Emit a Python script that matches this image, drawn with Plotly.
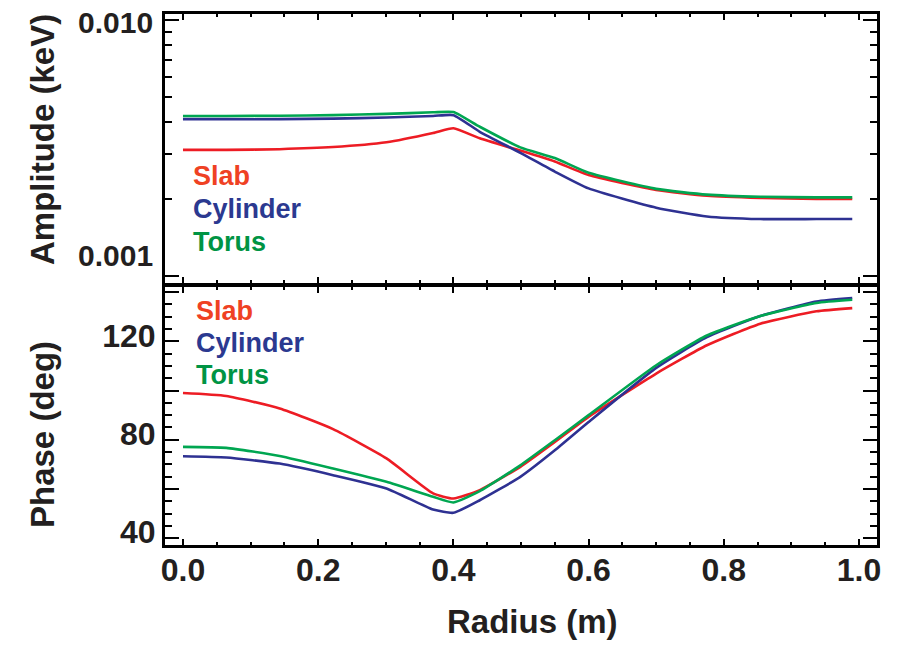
import plotly.graph_objects as go
import math

# ---------------- data ----------------
radius = [0.0, 0.064, 0.143, 0.222, 0.301, 0.37, 0.40, 0.439, 0.499, 0.55, 0.60, 0.70, 0.775, 0.854, 0.937, 0.99]

amp_slab = [0.00311, 0.00311, 0.00313, 0.00319, 0.00333, 0.00362, 0.00378, 0.00345, 0.00309, 0.00280,
            0.00248, 0.00217, 0.00206, 0.00202, 0.00200, 0.00200]
amp_cyl = [0.00410, 0.00410, 0.00410, 0.00412, 0.00416, 0.00422, 0.00425, 0.00366, 0.00303, 0.00256,
           0.00220, 0.00185, 0.00171, 0.00167, 0.00167, 0.00167]
amp_torus = [0.00422, 0.00422, 0.00423, 0.00425, 0.00430, 0.00436, 0.00437, 0.00383, 0.00318, 0.00289,
             0.00253, 0.00219, 0.00208, 0.00204, 0.00203, 0.00203]

phase_slab = [99.0, 97.8, 92.7, 84.3, 72.4, 58.2, 56.1, 59.5, 69.0, 79.1, 89.3, 106.9, 118.4, 127.2, 132.2, 133.5]
phase_cyl = [73.3, 72.8, 70.3, 65.6, 60.2, 51.6, 50.3, 55.4, 64.9, 75.7, 87.2, 109.2, 121.7, 130.3, 136.2, 137.6]
phase_torus = [77.1, 76.7, 73.4, 68.3, 62.9, 56.8, 54.5, 59.1, 69.6, 79.8, 90.0, 110.3, 122.4, 130.3, 135.6, 136.9]

series_names = ["Slab", "Cylinder", "Torus"]
x_tick_vals = [0.0, 0.2, 0.4, 0.6, 0.8, 1.0]
x_tick_text = ["0.0", "0.2", "0.4", "0.6", "0.8", "1.0"]
amp_tick_vals = [0.001, 0.010]
amp_tick_text = ["0.001", "0.010"]
phase_tick_vals = [40, 60, 80, 100, 120, 140]
phase_tick_text = ["40", "", "80", "", "120", ""]

# ---------------- styling ----------------
line_colors = ["#ED1C24", "#2E3192", "#00A651"]
text_colors = ["#EF4123", "#2B3990", "#009444"]
FONT = "Liberation Sans, Arial, Helvetica, sans-serif"
INK = "#231F20"

W, H = 898, 646
L, R, T, B = 165, 21, 14, 101
pw, ph = W - L - R, H - T - B


def px_x(px):
    return (px - L) / pw


def px_y(py):
    return (H - B - py) / ph


fig = go.Figure()
amps = [amp_slab, amp_cyl, amp_torus]
phases = [phase_slab, phase_cyl, phase_torus]
for name, a, p, c in zip(series_names, amps, phases, line_colors):
    fig.add_trace(go.Scatter(x=radius, y=a, mode="lines", name=name,
                             line=dict(color=c, width=2.6, shape="spline", smoothing=0.5),
                             xaxis="x", yaxis="y", showlegend=False))
    fig.add_trace(go.Scatter(x=radius, y=p, mode="lines", name=name,
                             line=dict(color=c, width=2.6, shape="spline", smoothing=0.5),
                             xaxis="x2", yaxis="y2", showlegend=False))

xcommon = dict(range=[-0.0266, 1.0266], tickvals=x_tick_vals, ticktext=x_tick_text,
               ticks="inside", ticklen=6, tickwidth=2, tickcolor="black",
               showline=True, linewidth=3, linecolor="black", mirror="ticks",
               showgrid=False, zeroline=False,
               minor=dict(ticks="inside", ticklen=3, tickwidth=2, tickcolor="black", dtick=0.05, showgrid=False))

top_dom = [px_y(283), 1.0]
bot_dom = [0.0, px_y(286.5)]

fig.update_layout(
    width=W, height=H,
    margin=dict(l=L, r=R, t=T, b=B, pad=0),
    paper_bgcolor="white", plot_bgcolor="white",
    font=dict(family=FONT, color=INK, weight="bold"),
    xaxis=dict(xcommon, domain=[0, 1], anchor="y", showticklabels=False),
    yaxis=dict(type="log", domain=top_dom, anchor="x", range=[-3.027, -1.9766],
               tickvals=amp_tick_vals, showticklabels=False,
               ticks="inside", ticklen=14, tickwidth=2, tickcolor="black",
               showline=True, linewidth=3, linecolor="black", mirror="ticks",
               showgrid=False, zeroline=False,
               minor=dict(ticks="inside", ticklen=7, tickwidth=2, tickcolor="black", dtick="D1", showgrid=False)),
    xaxis2=dict(xcommon, domain=[0, 1], anchor="y2", showticklabels=True,
                ticklabelstandoff=-5,
                tickfont=dict(size=32, family=FONT, color=INK, weight="bold")),
    yaxis2=dict(domain=bot_dom, anchor="x2", range=[37.2, 142.3],
                tickvals=phase_tick_vals, ticktext=phase_tick_text,
                tickfont=dict(size=32, family=FONT, color=INK, weight="bold"),
                ticklabelshift=-6,
                ticks="inside", ticklen=14, tickwidth=2, tickcolor="black",
                showline=True, linewidth=3, linecolor="black", mirror="ticks",
                showgrid=False, zeroline=False,
                minor=dict(ticks="inside", ticklen=7, tickwidth=2, tickcolor="black", dtick=5, showgrid=False)),
)

annotations = []
# top panel y tick labels
amp_label_shift = [21, -3]
for v, t, s in zip(amp_tick_vals, amp_tick_text, amp_label_shift):
    annotations.append(dict(x=px_x(155), xref="paper", y=math.log10(v), yref="y", yshift=s,
                            text=t, showarrow=False, xanchor="right", yanchor="middle",
                            font=dict(size=30, family=FONT, color=INK, weight="bold")))

# axis titles
annotations.append(dict(x=px_x(42), y=px_y(140), xref="paper", yref="paper", text="Amplitude (keV)",
                        textangle=-90, showarrow=False, xanchor="center", yanchor="middle",
                        font=dict(size=33, family=FONT, color=INK, weight="bold")))
annotations.append(dict(x=px_x(42), y=px_y(435), xref="paper", yref="paper", text="Phase (deg)",
                        textangle=-90, showarrow=False, xanchor="center", yanchor="middle",
                        font=dict(size=33, family=FONT, color=INK, weight="bold")))
annotations.append(dict(x=px_x(532), y=px_y(621), xref="paper", yref="paper", text="Radius (m)",
                        showarrow=False, xanchor="center", yanchor="middle",
                        font=dict(size=33, family=FONT, color=INK, weight="bold")))

# in-panel labels
top_label_y = [176, 209, 242]
bot_label_y = [311, 343, 375]
for name, col, ty, by in zip(series_names, text_colors, top_label_y, bot_label_y):
    annotations.append(dict(x=px_x(191), y=px_y(ty), xref="paper", yref="paper", text=name,
                            showarrow=False, xanchor="left", yanchor="middle",
                            font=dict(size=27, family=FONT, color=col, weight="bold")))
    annotations.append(dict(x=px_x(194), y=px_y(by), xref="paper", yref="paper", text=name,
                            showarrow=False, xanchor="left", yanchor="middle",
                            font=dict(size=27, family=FONT, color=col, weight="bold")))

fig.update_layout(annotations=annotations)
fig.write_html("out.html", config={"displayModeBar": False},
               post_script="document.body.style.margin='0px';document.body.style.overflow='hidden';")
